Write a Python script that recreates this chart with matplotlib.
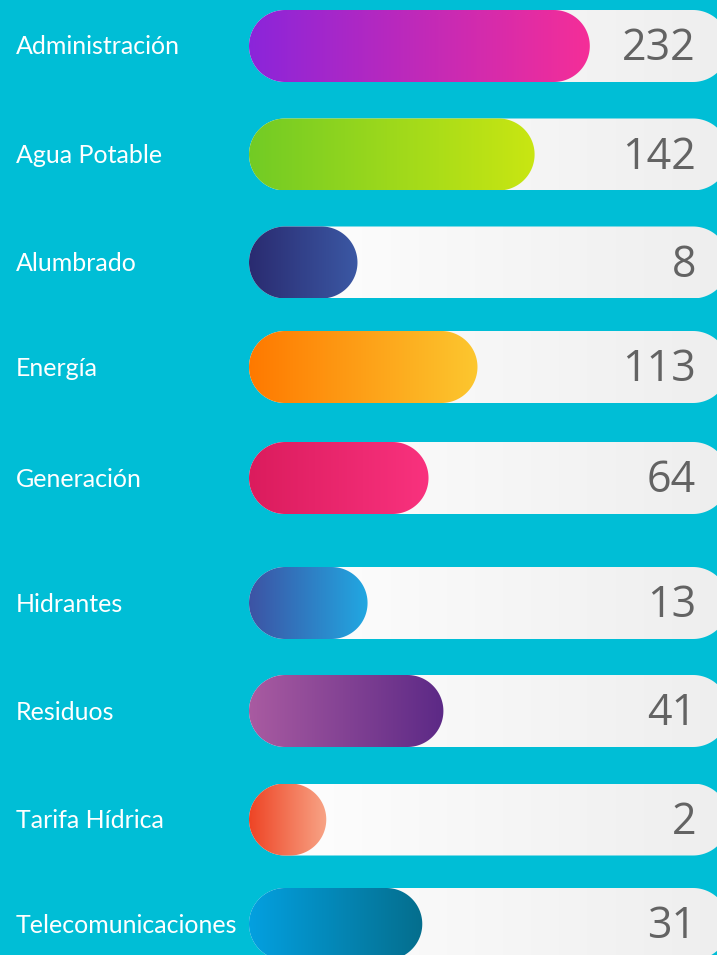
import numpy as np
import matplotlib
matplotlib.use("Agg")
import matplotlib.pyplot as plt
from matplotlib.patches import PathPatch
from matplotlib.path import Path
from matplotlib.colors import LinearSegmentedColormap

# datos
categorias = ["Administración", "Agua Potable", "Alumbrado", "Energía", "Generación",
              "Hidrantes", "Residuos", "Tarifa Hídrica", "Telecomunicaciones"]
valores = [232, 142, 8, 113, 64, 13, 41, 2, 31]
# largo de la barra de color tal como se ve (fraccion del riel)
relleno = [0.71, 0.595, 0.226, 0.476, 0.374, 0.247, 0.405, 0.161, 0.361]
colores = [("#8B25DA", "#F52E98"), ("#72CB25", "#C9E612"), ("#2A2B70", "#3B58A4"),
           ("#FF7900", "#FCC72F"), ("#DB1C5D", "#F9327E"), ("#3D53A4", "#21A8E2"),
           ("#A95BA1", "#5C2986"), ("#EE4425", "#F8A486"), ("#03A0E0", "#056E8D")]

# layout en pixeles
W, H = 717, 955
fila_y = [46, 154.5, 262.5, 367, 478, 603, 711, 819.5, 924]
alto = 72
x0 = 249
riel = 480
fondo = "#00BED6"

fig = plt.figure(figsize=(W / 100, H / 100), dpi=100)
fig.patch.set_facecolor(fondo)
ax = fig.add_axes([0, 0, 1, 1])
ax.set_xlim(0, W)
ax.set_ylim(H, 0)
ax.axis("off")

grad = np.linspace(0, 1, 256).reshape(1, -1)
cmap_riel = LinearSegmentedColormap.from_list("riel", ["#FFFFFF", "#EEEEEE"])


def pildora(x, y, w):
    # contorno con extremos semicirculares
    r = alto / 2
    t1 = np.linspace(-np.pi / 2, np.pi / 2, 60)
    t2 = np.linspace(np.pi / 2, 3 * np.pi / 2, 60)
    der = np.column_stack([x + w - r + r * np.cos(t1), y + r * np.sin(t1)])
    izq = np.column_stack([x + r + r * np.cos(t2), y + r * np.sin(t2)])
    pts = np.vstack([der, izq, der[:1]])
    return Path(pts, closed=True)


def barra_gradiente(x, y, w, cmap, z):
    p = PathPatch(pildora(x, y, w), facecolor="none", edgecolor="none", zorder=z)
    ax.add_patch(p)
    im = ax.imshow(grad, cmap=cmap, aspect="auto", interpolation="bicubic",
                   extent=(x, x + w, y + alto / 2, y - alto / 2), zorder=z)
    im.set_clip_path(p)


for i, cat in enumerate(categorias):
    y = fila_y[i]
    barra_gradiente(x0, y, riel, cmap_riel, 1)
    cm = LinearSegmentedColormap.from_list("c%d" % i, list(colores[i]))
    barra_gradiente(x0, y, riel * relleno[i], cm, 2)
    ax.text(16, y + 1, cat, color="white", fontsize=18, family="Lato",
            va="center", ha="left", zorder=3)
    ax.text(696, y + 3, str(valores[i]), color="#636363", fontsize=31,
            family="Open Sans", va="center", ha="right", zorder=3)

ax.set_xlim(0, W)
ax.set_ylim(H, 0)
fig.savefig("out.png", dpi=100, facecolor=fondo)
